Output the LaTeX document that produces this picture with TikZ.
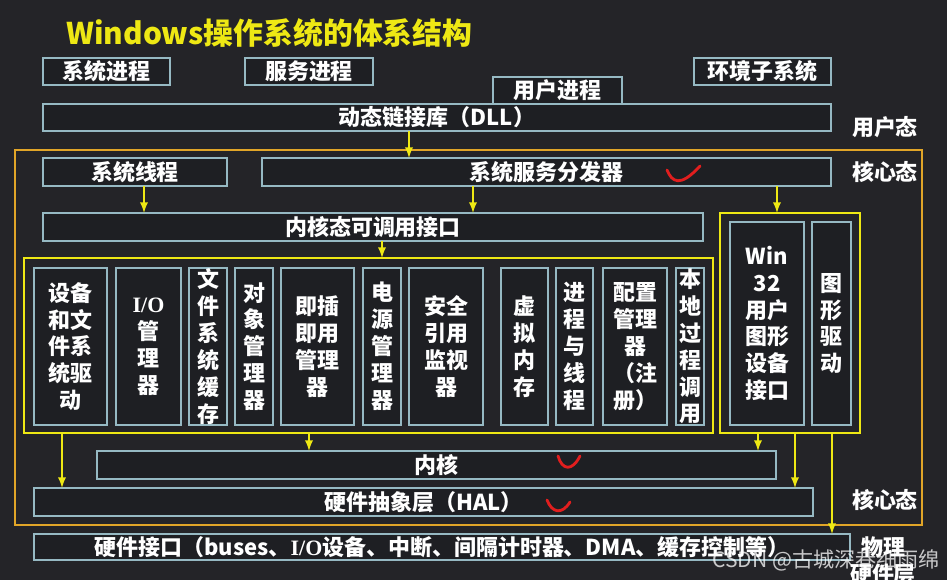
\documentclass[tikz,border=0pt]{standalone}
\usepackage{fontspec}
\setmainfont{Noto Sans CJK SC}
\newfontfamily\iofont{Liberation Serif}
\usepackage{tikz}
\usetikzlibrary{arrows,positioning}
\definecolor{bgdark}{RGB}{36,36,40}
\definecolor{boxfill}{RGB}{30,31,35}
\definecolor{boxline}{RGB}{150,185,195}
\definecolor{layeryellow}{RGB}{238,232,20}
\definecolor{kernelorange}{RGB}{225,165,40}
\definecolor{checkred}{RGB}{225,30,30}
\tikzstyle{arrow} = [line width=1.1pt,->,>=latex,color=layeryellow]
\tikzstyle{layer} = [rectangle, draw=boxline, line width=0.9pt, fill=boxfill, text=white, inner sep=0pt, outer sep=0pt, align=center, font=\bfseries\fontsize{12.5pt}{15.3pt}\selectfont]
\tikzstyle{module} = [layer, minimum height=3.14cm]
\tikzstyle{group} = [rectangle, draw=layeryellow, line width=1.1pt, inner sep=0pt, outer sep=0pt]
\tikzstyle{modelabel} = [text=white, align=center, font=\bfseries\fontsize{12.5pt}{15.3pt}\selectfont]
\tikzstyle{check} = [checkred, line width=1.6pt, line cap=round]

\begin{document}
\begin{tikzpicture}[x=0.02cm, y=-0.02cm]
\fill[bgdark] (0,0) rectangle (947,580);
\useasboundingbox (0,0) rectangle (947,580);

% Title
\node (title) [anchor=west, text=layeryellow, font=\bfseries\fontsize{17pt}{20pt}\selectfont] at (60,33) {Windows操作系统的体系结构};

% User mode
\node (sysproc) [layer, minimum width=2.54cm, minimum height=0.54cm] at (106.5,71.5) {系统进程};
\node (svcproc) [layer, minimum width=2.56cm, minimum height=0.54cm] at (309,71.5) {服务进程};
\node (envsub) [layer, minimum width=2.74cm, minimum height=0.54cm] at (762.5,71.5) {环境子系统};
\node (dll) [layer, minimum width=15.76cm, minimum height=0.54cm] at (437,117.5) {动态链接库（DLL）};
\node (userproc) [layer, minimum width=2.58cm, minimum height=0.54cm] at (557.5,90.5) {用户进程};
\node (usermode) [modelabel] at (885,127) {用户态};

% Kernel mode
\node (kernelframe) [rectangle, draw=kernelorange, line width=1.1pt, minimum width=18.14cm, minimum height=7.5cm, inner sep=0pt] at (468.5,337.5) {};
\node (kernelmode) [modelabel] at (885,172) {核心态};
\node (kernelmode2) [modelabel] at (885,500) {核心态};

\node (systhread) [layer, minimum width=3.68cm, minimum height=0.56cm] at (135,172) {系统线程};
\node (dispatcher) [layer, minimum width=11.38cm, minimum height=0.56cm] at (546.5,172) {系统服务分发器};
\node (kcallif) [layer, minimum width=13.2cm, minimum height=0.56cm] at (373,227) {内核态可调用接口};

% Executive
\node (execframe) [group, minimum width=13.78cm, minimum height=3.5cm] at (368.5,345.5) {};
\node (devdrv) [module, minimum width=1.46cm] at (70.5,346.5) {设备\\和文\\件系\\统驱\\动};
\node (iomgr) [module, minimum width=1.30cm] at (148.5,346.5) {{\iofont I/O}\\管\\理\\器};
\node (fscache) [module, minimum width=0.76cm] at (208,346.5) {文\\件\\系\\统\\缓\\存};
\node (objmgr) [module, minimum width=0.76cm] at (254,346.5) {对\\象\\管\\理\\器};
\node (pnpmgr) [module, minimum width=1.46cm] at (317.5,346.5) {即插\\即用\\管理\\器};
\node (powermgr) [module, minimum width=0.76cm] at (382,346.5) {电\\源\\管\\理\\器};
\node (secmon) [module, minimum width=1.48cm] at (446,346.5) {安全\\引用\\监视\\器};
\node (vmem) [module, minimum width=0.94cm] at (524.5,346.5) {虚\\拟\\内\\存};
\node (procthr) [module, minimum width=0.74cm] at (574.5,346.5) {进\\程\\与\\线\\程};
\node (cfgmgr) [module, minimum width=1.28cm] at (635,346.5) {配置\\管理\\器\\（注\\册）};
\node (lpc) [module, minimum width=0.56cm] at (690,346.5) {本\\地\\过\\程\\调\\用};

% Win32
\node (win32frame) [group, minimum width=2.8cm, minimum height=4.4cm] at (790,323) {};
\node (gdi) [layer, minimum width=1.48cm, minimum height=4.06cm] at (767,323.5) {Win\\32\\用户\\图形\\设备\\接口};
\node (gfxdrv) [layer, minimum width=0.78cm, minimum height=4.06cm] at (831.5,323.5) {图\\形\\驱\\动};

% Kernel and HAL
\node (kernel) [layer, minimum width=13.58cm, minimum height=0.56cm] at (436.5,465) {内核};
\node (hal) [layer, minimum width=15.58cm, minimum height=0.56cm] at (423.5,502) {硬件抽象层（HAL）};

% Hardware
\node (hwif) [layer, minimum width=16.32cm, minimum height=0.52cm] at (442,547) {硬件接口（buses、{\iofont I/O}设备、中断、间隔计时器、DMA、缓存控制等）};
\node (hwmode) [modelabel, anchor=north] at (883,531) {物理\\硬件层};

% Arrows
\draw[arrow] (409,0 |- dll.south) -- (409,0 |- dispatcher.north);
\draw[arrow] (144,0 |- systhread.south) -- (144,0 |- kcallif.north);
\draw[arrow] (473,0 |- dispatcher.south) -- (473,0 |- kcallif.north);
\draw[arrow] (777,0 |- dispatcher.south) -- (777,0 |- win32frame.north);
\draw[arrow] (382,0 |- kcallif.south) -- (382,0 |- execframe.north);
\draw[arrow] (62,0 |- execframe.south) -- (62,0 |- hal.north);
\draw[arrow] (309,0 |- execframe.south) -- (309,0 |- kernel.north);
\draw[arrow] (758,0 |- win32frame.south) -- (758,0 |- kernel.north);
\draw[arrow] (795,0 |- win32frame.south) -- (795,0 |- hal.north);
\draw[arrow] (832,0 |- win32frame.south) -- (832,0 |- hwif.north);

% Red checks
\draw[check] (667,170) .. controls (672,182) and (680,188) .. (700,166);
\draw[check] (558,456) .. controls (562,470) and (572,472) .. (580,456);
\draw[check] (547,500) .. controls (552,513) and (562,515) .. (570,502);

% Watermark
\node (watermark) [text=white, opacity=0.75, font=\fontsize{12pt}{14pt}\selectfont] at (826,560) {CSDN @古城深巷细雨绵};
\end{tikzpicture}
\end{document}
